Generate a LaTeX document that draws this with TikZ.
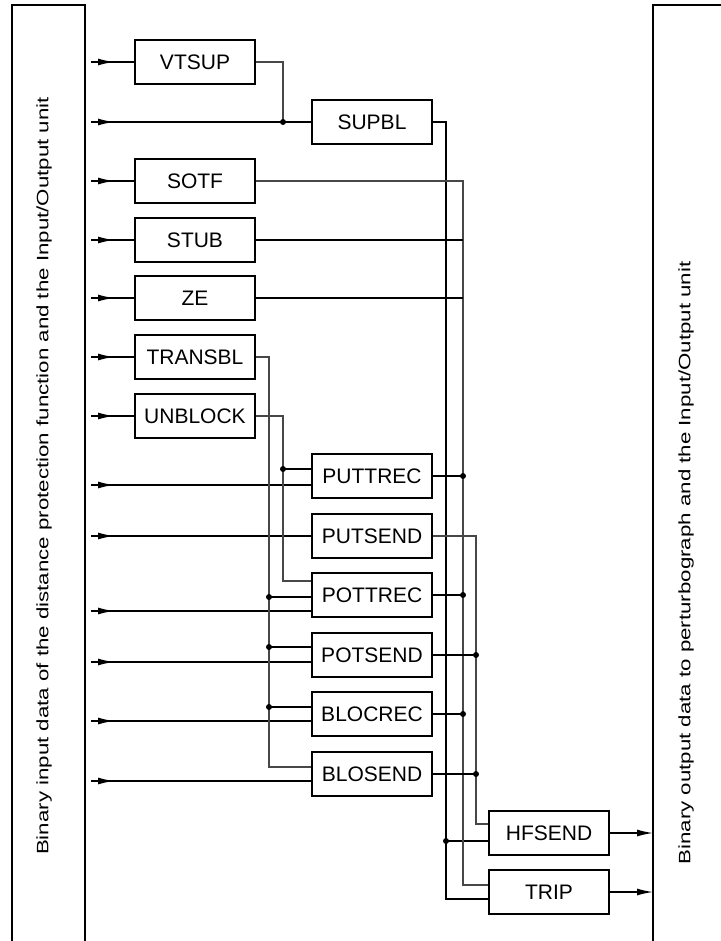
\documentclass[tikz,border=0pt]{standalone}
\usepackage{graphicx}
\usepackage{fontspec}
\setmainfont{Liberation Sans}
\usetikzlibrary{arrows.meta,decorations.markings}

\tikzset{
  block/.style={draw, line width=2.4pt, minimum width=120pt, minimum height=44pt,
    inner sep=0pt, font=\fontsize{21}{25}\selectfont},
  wire/.style={line width=1.4pt},
  tap/.style={line width=1.1pt, black!72},
  inarrow/.style={wire, postaction={decorate},
    decoration={markings, mark=at position 23pt with {\arrow{Latex[length=16pt,width=7pt]}}}},
  outarrow/.style={wire, -{Latex[length=16pt,width=7pt]}},
  panel/.style={line width=2.3pt},
  sidetext/.style={rotate=90, font=\fontsize{16.5}{20}\selectfont}
}

\begin{document}
\begin{tikzpicture}[x=1pt, y=-1pt]
    \useasboundingbox (0,0) rectangle (720,941);

    % side units
    \draw[panel] (12,950) -- (12,5) -- (85,5) -- (85,950);
    \draw[panel] (653,950) -- (653,5) -- (730,5);
    \node[sidetext] (intxt) at (44,476) {\scalebox{1.35}[1]{Binary input data of the distance protection function and the Input/Output unit}};
    \node[sidetext] (outtxt) at (686,563) {\scalebox{1.35}[1]{Binary output data to perturbograph and the Input/Output unit}};

    % logic blocks
    \node[block] (vtsup) at (195,62) {VTSUP};
    \node[block] (sotf) at (195,181) {SOTF};
    \node[block] (stub) at (195,240) {STUB};
    \node[block] (ze) at (195,298) {ZE};
    \node[block] (transbl) at (195,357) {TRANSBL};
    \node[block] (unblock) at (195,416) {UNBLOCK};
    \node[block] (supbl) at (372,122) {SUPBL};
    \node[block] (puttrec) at (372,476) {PUTTREC};
    \node[block] (putsend) at (372,536) {PUTSEND};
    \node[block] (pottrec) at (372,595) {POTTREC};
    \node[block] (potsend) at (372,655) {POTSEND};
    \node[block] (blocrec) at (372,714) {BLOCREC};
    \node[block] (blosend) at (372,774) {BLOSEND};
    \node[block] (hfsend) at (549,833) {HFSEND};
    \node[block] (trip) at (549,892) {TRIP};

    % extra input points on the blocks
    \coordinate (puttrec-u) at ([yshift=7pt]puttrec.west);
    \coordinate (pottrec-u) at ([yshift=14pt]pottrec.west);
    \coordinate (pottrec-m) at ([yshift=-2pt]pottrec.west);
    \coordinate (potsend-u) at ([yshift=8pt]potsend.west);
    \coordinate (blocrec-u) at ([yshift=7pt]blocrec.west);
    \coordinate (blosend-u) at ([yshift=7pt]blosend.west);
    \coordinate (hfsend-u) at ([yshift=9pt]hfsend.west);
    \coordinate (hfsend-l) at ([yshift=-8pt]hfsend.west);
    \coordinate (trip-u) at ([yshift=7pt]trip.west);
    \coordinate (trip-l) at ([yshift=-7pt]trip.west);

    % bus lines
    \coordinate (busT) at (269,0);
    \coordinate (busU) at (283,0);
    \coordinate (busA) at (446,0);
    \coordinate (busB) at (463,0);
    \coordinate (busC) at (476,0);
    \coordinate (outP) at (653,0);

    % inputs from the left unit
    \coordinate (in1) at (91,62);
    \coordinate (in2) at (91,122);
    \coordinate (in3) at (91,181);
    \coordinate (in4) at (91,240);
    \coordinate (in5) at (91,298);
    \coordinate (in6) at (91,357);
    \coordinate (in7) at (91,416);
    \coordinate (in8) at (91,485);
    \coordinate (in9) at (91,536);
    \coordinate (in10) at (91,611);
    \coordinate (in11) at (91,662);
    \coordinate (in12) at (91,721);
    \coordinate (in13) at (91,781);

    \draw[inarrow] (in1) -- (vtsup.west);
    \draw[inarrow] (in2) -- (supbl.west);
    \draw[inarrow] (in3) -- (sotf.west);
    \draw[inarrow] (in4) -- (stub.west);
    \draw[inarrow] (in5) -- (ze.west);
    \draw[inarrow] (in6) -- (transbl.west);
    \draw[inarrow] (in7) -- (unblock.west);
    \draw[inarrow] (in8) -- (in8 -| puttrec.west);
    \draw[inarrow] (in9) -- (putsend.west);
    \draw[inarrow] (in10) -- (in10 -| pottrec.west);
    \draw[inarrow] (in11) -- (in11 -| potsend.west);
    \draw[inarrow] (in12) -- (in12 -| blocrec.west);
    \draw[inarrow] (in13) -- (in13 -| blosend.west);

    % VTSUP
    \draw[tap] (vtsup.east) -| (busU |- supbl.west);
    \fill (busU |- supbl.west) circle (3pt);

    % TRANSBL
    \draw[tap] (transbl.east) -| (blosend-u -| busT) -- (blosend-u);
    \draw[wire] (pottrec-m -| busT) -- (pottrec-m);
    \draw[wire] (potsend-u -| busT) -- (potsend-u);
    \draw[wire] (blocrec-u -| busT) -- (blocrec-u);
    \fill (pottrec-m -| busT) circle (3pt);
    \fill (potsend-u -| busT) circle (3pt);
    \fill (blocrec-u -| busT) circle (3pt);

    % UNBLOCK
    \draw[tap] (unblock.east) -| (pottrec-u -| busU) -- (pottrec-u);
    \draw[wire] (puttrec-u -| busU) -- (puttrec-u);
    \fill (puttrec-u -| busU) circle (3pt);

    % outputs to HFSEND and TRIP
    \draw[wire] (supbl.east) -| (trip-l -| busA) -- (trip-l);
    \draw[wire] (hfsend-l -| busA) -- (hfsend-l);
    \fill (hfsend-l -| busA) circle (3pt);

    \draw[tap] (sotf.east) -| (trip-u -| busB) -- (trip-u);
    \draw[wire] (stub.east) -- (stub.east -| busB);
    \draw[wire] (ze.east) -- (ze.east -| busB);
    \draw[wire] (puttrec.east) -- (puttrec.east -| busB);
    \draw[wire] (pottrec.east) -- (pottrec.east -| busB);
    \draw[wire] (blocrec.east) -- (blocrec.east -| busB);
    \fill (puttrec.east -| busB) circle (3pt);
    \fill (pottrec.east -| busB) circle (3pt);
    \fill (blocrec.east -| busB) circle (3pt);

    \draw[tap] (putsend.east) -| (hfsend-u -| busC) -- (hfsend-u);
    \draw[wire] (potsend.east) -- (potsend.east -| busC);
    \draw[wire] (blosend.east) -- (blosend.east -| busC);
    \fill (potsend.east -| busC) circle (3pt);
    \fill (blosend.east -| busC) circle (3pt);

    % to the right unit
    \draw[outarrow] (hfsend.east) -- (hfsend.east -| outP);
    \draw[outarrow] (trip.east) -- (trip.east -| outP);
\end{tikzpicture}
\end{document}
